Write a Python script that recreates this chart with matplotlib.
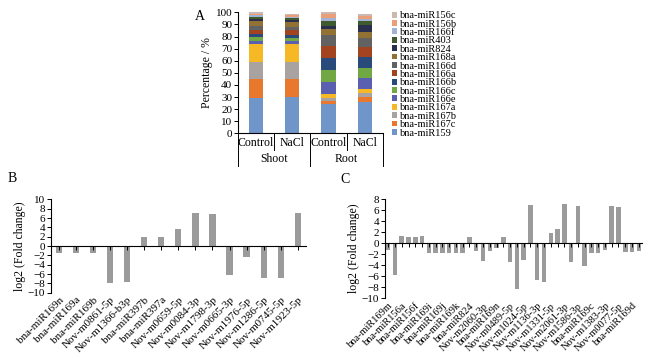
import matplotlib
matplotlib.use('Agg')
import matplotlib.pyplot as plt
import numpy as np
from matplotlib.patches import Patch
from matplotlib.lines import Line2D

plt.rcParams['font.family'] = ['Liberation Serif', 'DejaVu Serif']
plt.rcParams['axes.linewidth'] = 0.8

# Panel A: stacked composition (bottom -> top)
mirnas = ['bna-miR159', 'bna-miR167c', 'bna-miR167b', 'bna-miR167a', 'bna-miR166e',
          'bna-miR166c', 'bna-miR166b', 'bna-miR166a', 'bna-miR166d', 'bna-miR168a',
          'bna-miR824', 'bna-miR403', 'bna-miR166f', 'bna-miR156b', 'bna-miR156c']
colors_a = ['#6f95c9', '#e8782e', '#a8a2a0', '#f7b825', '#5a5fb0', '#72a843',
            '#294b7c', '#a2441f', '#626262', '#927234', '#2a2f4e', '#3f5a2c',
            '#a3b3d6', '#eb9f78', '#cbb8b0']
conditions = ['Control', 'NaCl', 'Control', 'NaCl']
tissues = ['Shoot', 'Root']
shoot_control = [29.5, 15.5, 14, 14.5, 2.5, 3.5, 2.5, 3.5, 3, 4.5, 1.5, 2, 1, 1.5, 1]
shoot_nacl = [30, 15, 14, 14.5, 2.5, 3, 2.5, 3.5, 3, 4, 1.5, 2, 0.8, 1.2, 1.1]
root_control = [24, 3, 2.5, 3, 10, 9.5, 10, 10.5, 9, 4.5, 3, 3.5, 2.5, 4, 1]
root_nacl = [26, 4, 3.5, 3.5, 9, 8, 9, 8.5, 7, 5, 6, 3.5, 1.5, 2.5, 1.5]

# Panel B
labels_b = ['bna-miR169n', 'bna-miR169a', 'bna-miR169b', 'Nov-m0861-5p', 'Nov-m1366-b3p',
            'bna-miR397b', 'bna-miR397a', 'Nov-m0659-5p', 'Nov-m0084-3p', 'Nov-m1798-3p',
            'Nov-m0665-3p', 'Nov-m1976-5p', 'Nov-m1286-5p', 'Nov-m0745-5p', 'Nov-m1923-5p']
fc_b = [-1.55, -1.45, -1.45, -7.85, -7.65, 1.9, 1.85, 3.65, 7.0, 6.8,
        -6.15, -2.35, -6.95, -6.95, 7.0]

# Panel C (every other bar labelled)
labels_c = ['bna-miR169m', 'bna-miR156a', 'bna-miR156f', 'bna-miR169i', 'bna-miR169j',
            'bna-miR169k', 'bna-miR824', 'Nov-m2060-3p', 'bna-miR169n', 'Nov-m0489-5p',
            'Nov-m1024-5p', 'Nov-m1136-3p', 'Nov-m1331-5p', 'Nov-m2061-3p', 'Nov-m1586-3p',
            'bna-miR169c', 'Nov-m1383-3p', 'Nov-m0077-5p', 'bna-miR169d']
fc_c = [-1.2, -5.75, 1.3, 1.2, 1.2, 1.3, -1.8, -1.8, -1.8, -1.8, -1.8, -1.8,
        1.2, -1.35, -3.3, -1.35, -0.95, 1.1, -3.5, -8.3, -3.05, 6.85, -6.7, -7.1,
        1.9, 2.5, 7.05, -3.45, 6.65, -4.05, -1.75, -1.8, -1.15, 6.65, 6.5,
        -1.65, -1.65, -1.4]

fig = plt.figure(figsize=(6.5, 3.59), dpi=100)

# ---------------- A ----------------
axA = fig.add_axes([0.366, 0.6287, 0.223, 0.337])
data_a = np.array([shoot_control, shoot_nacl, root_control, root_nacl]).T
xa = np.arange(len(conditions))
bottom = np.zeros(len(conditions))
for i, name in enumerate(mirnas):
    axA.bar(xa, data_a[i], 0.39, bottom=bottom, color=colors_a[i], label=name)
    bottom += data_a[i]
axA.set_xlim(-0.5, 3.5)
axA.set_ylim(0, 100)
axA.set_yticks(np.arange(0, 101, 10))
axA.tick_params(axis='y', labelsize=8, length=3, width=0.7, pad=1)
axA.set_xticks(xa)
axA.set_xticklabels(conditions, fontsize=8.5)
axA.tick_params(axis='x', length=0, pad=3)
for s in ['top', 'right']:
    axA.spines[s].set_visible(False)
axA.set_ylabel('Percentage / %', fontsize=8.5, labelpad=2)
trA = axA.get_xaxis_transform()
for xs, depth in [(-0.5, -0.27), (0.5, -0.14), (1.5, -0.27), (2.5, -0.14), (3.5, -0.27)]:
    axA.add_line(Line2D([xs, xs], [0, depth], transform=trA, color='k', lw=0.7, clip_on=False))
for j, t in enumerate(tissues):
    axA.text(2 * j + 0.5, -0.21, t, transform=trA, ha='center', va='center', fontsize=8.5)
handles = [Patch(facecolor=colors_a[i], label=mirnas[i]) for i in range(len(mirnas))][::-1]
axA.legend(handles=handles, loc='upper left', bbox_to_anchor=(1.02, 1.06), frameon=False,
           fontsize=7.5, labelspacing=-0.06, handlelength=0.5, handleheight=0.5,
           handletextpad=0.3, borderaxespad=0.2)
fig.text(0.308, 0.955, 'A', fontsize=10, ha='center', va='center')


def fold_panel(ax, vals, labels, step, ymin, ymax, width, label_fs):
    x = np.arange(len(vals))
    ax.bar(x, vals, width, color='#9b9b9b')
    ax.set_xlim(-0.5, len(vals) - 0.5)
    ax.set_ylim(ymin, ymax)
    ax.set_yticks(np.arange(ymin, ymax + 1, 2))
    ax.tick_params(axis='y', labelsize=8, length=3, width=0.7, pad=1)
    for s in ['top', 'right']:
        ax.spines[s].set_visible(False)
    ax.spines['bottom'].set_position(('data', 0))
    ax.set_xticks(x)
    ax.tick_params(axis='x', length=3, width=0.7, labelbottom=False)
    sec = ax.secondary_xaxis(0.0)
    sec.spines['bottom'].set_visible(False)
    sec.set_xticks(x[::step])
    sec.set_xticklabels(labels, rotation=45, ha='right', rotation_mode='anchor',
                        fontsize=label_fs)
    sec.tick_params(axis='x', length=0, pad=2)
    ax.set_ylabel('log2 (Fold change)', fontsize=8.5, labelpad=1)


# ---------------- B ----------------
axB = fig.add_axes([0.078, 0.1847, 0.393, 0.260])
fold_panel(axB, fc_b, labels_b, 1, -10, 10, 0.36, 8)
fig.text(0.019, 0.504, 'B', fontsize=10, ha='center', va='center')

# ---------------- C ----------------
axC = fig.add_axes([0.592, 0.169, 0.396, 0.2766])
fold_panel(axC, fc_c, labels_c, 2, -10, 8, 0.66, 7.5)
fig.text(0.531, 0.501, 'C', fontsize=10, ha='center', va='center')

fig.savefig('out.png', dpi=100)
